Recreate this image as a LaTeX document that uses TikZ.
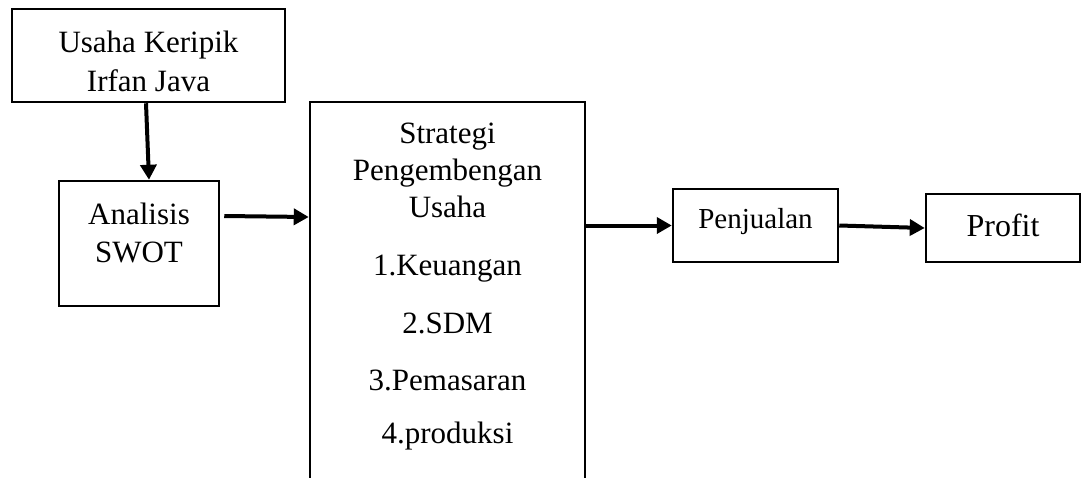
\documentclass[tikz,border=0pt]{standalone}
\usepackage{fontspec}
\setmainfont{Liberation Serif}
\usetikzlibrary{arrows.meta}
\begin{document}
\begin{tikzpicture}[x=1pt,y=1pt,
  box/.style={draw,line width=2.5pt,rectangle,inner sep=0pt},
  txt/.style={anchor=base,font=\fontsize{31}{36}\selectfont,inner sep=0pt},
  arr/.style={line width=4pt,-{Triangle[length=15pt,width=16pt]}}]
\useasboundingbox (0,0) rectangle (1081,-477);
\clip (0,0) rectangle (1081,-477);
% boxes
\node[box,minimum width=273,minimum height=93] (b1) at (148.5,-55.5) {};
\node[box,minimum width=160,minimum height=125] (an) at (139,-243.5) {};
\node[box,minimum width=275,minimum height=438] (st) at (447.5,-321) {};
\node[box,minimum width=165,minimum height=73] (pj) at (755.5,-225.5) {};
\node[box,minimum width=154,minimum height=68] (pf) at (1003,-228) {};
% texts
\node[txt] (t1a) at (148.5,-52) {Usaha Keripik};
\node[txt] (t1b) at (148.5,-91) {Irfan Java};
\node[txt] (t2a) at (139,-224) {Analisis};
\node[txt] (t2b) at (139,-262) {SWOT};
\node[txt] (t3a) at (447.5,-143) {Strategi};
\node[txt] (t3b) at (447.5,-180) {Pengembengan};
\node[txt] (t3c) at (447.5,-217) {Usaha};
\node[txt] (t3d) at (447.5,-275) {1.Keuangan};
\node[txt] (t3e) at (447.5,-333) {2.SDM};
\node[txt] (t3f) at (447.5,-390) {3.Pemasaran};
\node[txt] (t3g) at (447.5,-443) {4.produksi};
\node[txt,font=\fontsize{29}{34}\selectfont] (t4) at (755.5,-228) {Penjualan};
\node[txt,font=\fontsize{32}{36}\selectfont] (t5) at (1003,-236) {Profit};
% arrows
\coordinate (anout) at ([xshift=4pt,yshift=27.5pt]an.east);
\draw[arr] ([xshift=-2.5pt]b1.south) -- ([xshift=10pt]an.north);
\draw[arr] (anout) -- ([yshift=-1pt]anout -| st.west);
\draw[arr] (pj.west -| st.east) -- (pj.west);
\draw[arr] (pj.east) -- (pf.west);
\end{tikzpicture}
\end{document}
